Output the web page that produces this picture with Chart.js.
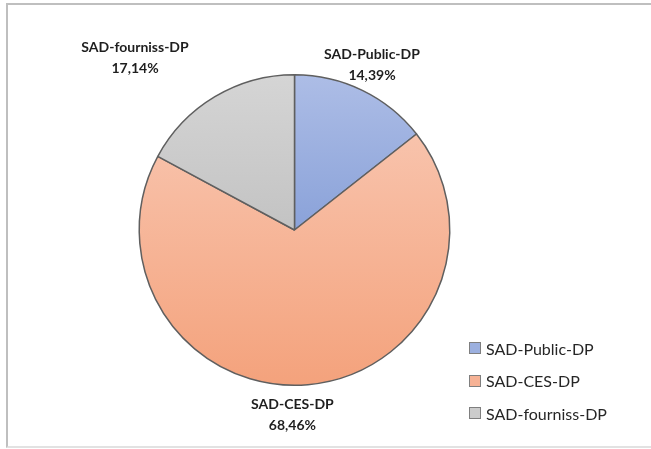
<!DOCTYPE html>
<html>
<head>
<meta charset="utf-8">
<script src="https://cdn.jsdelivr.net/npm/chart.js@4.4.0/dist/chart.umd.min.js"></script>
<style>
  body { margin: 0; background: #fff; }
  #wrap { position: relative; width: 651px; height: 449px; overflow: hidden; }
  #frame { position: absolute; left: 6px; top: 3px; width: 660px; height: 441px;
           border-top: 2px solid #bfbfbf; border-left: 2px solid #bfbfbf; border-bottom: 2px solid #e2e2e2; }
  canvas { position: absolute; left: 0; top: 0; }
  #legend { position: absolute; left: 469px; top: 332px; font-family: Lato, "Liberation Sans", sans-serif;
            font-size: 16px; color: #262626; }
  #legend div { height: 32.5px; display: flex; align-items: center; white-space: nowrap; }
  #legend span.box { display: inline-block; width: 10px; height: 10px; margin-right: 5px; border: 1px solid #7f7f7f; }
</style>
</head>
<body>
<div id="wrap">
  <div id="frame"></div>
  <canvas id="pie" width="651" height="449"></canvas>
  <div id="legend"></div>
</div>
<script>
// categories and values (percent)
const categories = ["SAD-Public-DP", "SAD-CES-DP", "SAD-fourniss-DP"];
const shares = [14.39, 68.46, 17.14];
const shareLabels = ["14,39%", "68,46%", "17,14%"];

// gradient top / bottom colours per slice
const topColors = ["#adbde6", "#f8c3ac", "#d5d5d5"];
const bottomColors = ["#8aa2d9", "#f4a27c", "#c3c3c3"];
const legendColors = ["#9cb0df", "#f6b295", "#cccccc"];

// nudges for the outside labels, relative to the slice direction
const labelNudge = [[-3, 0], [-18, 1], [-65, -14]];

// legend built from the same arrays
const legend = document.getElementById("legend");
categories.forEach((c, i) => {
    legend.innerHTML += `<div><span class="box" style="background:${legendColors[i]}"></span>${c}</div>`;
});

// per slice vertical gradient, spread over the slice's own height
const sliceGradient = {
    id: "sliceGradient",
    beforeDatasetsDraw(chart) {
        const ctx = chart.ctx;
        chart.getDatasetMeta(0).data.forEach((arc, i) => {
            let minY = arc.y, maxY = arc.y;
            for (let k = 0; k <= 60; k++) {
                let a = arc.startAngle + (arc.endAngle - arc.startAngle) * k / 60;
                let y = arc.y + Math.sin(a) * arc.outerRadius;
                minY = Math.min(minY, y);
                maxY = Math.max(maxY, y);
            }
            let g = ctx.createLinearGradient(0, minY, 0, maxY);
            g.addColorStop(0, topColors[i]);
            g.addColorStop(1, bottomColors[i]);
            arc.options.backgroundColor = g;
        });
    }
};

// data labels outside the pie
const outsideLabels = {
    id: "outsideLabels",
    afterDraw(chart) {
        const ctx = chart.ctx;
        ctx.save();
        ctx.font = "bold 14px Lato, 'Liberation Sans', sans-serif";
        ctx.fillStyle = "#1e1e1e";
        ctx.textAlign = "center";
        ctx.textBaseline = "middle";
        chart.getDatasetMeta(0).data.forEach((arc, i) => {
            let mid = (arc.startAngle + arc.endAngle) / 2;
            let r = arc.outerRadius + 29;
            let x = arc.x + Math.cos(mid) * r + labelNudge[i][0];
            let y = arc.y + Math.sin(mid) * r + labelNudge[i][1];
            ctx.fillText(categories[i], x, y - 10);
            ctx.fillText(shareLabels[i], x, y + 11);
        });
        ctx.restore();
    }
};

new Chart(document.getElementById("pie"), {
    type: "pie",
    data: {
        labels: categories,
        datasets: [{
            data: shares,
            backgroundColor: legendColors,
            borderColor: "#5f5f5f",
            borderWidth: 1.5
        }]
    },
    options: {
        responsive: false,
        animation: false,
        layout: { padding: { left: 138, right: 200, top: 74, bottom: 63 } },
        plugins: {
            legend: { display: false },
            tooltip: { enabled: false }
        }
    },
    plugins: [sliceGradient, outsideLabels]
});
</script>
</body>
</html>
